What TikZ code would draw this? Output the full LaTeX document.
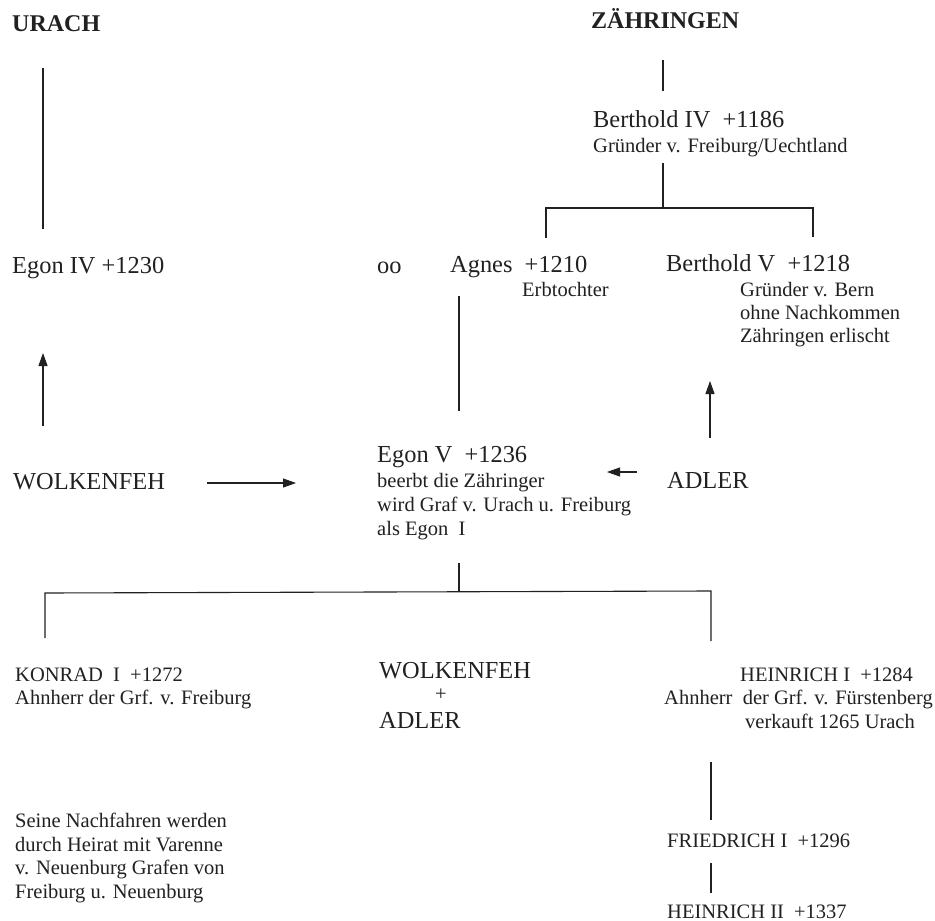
\documentclass[tikz,border=0pt]{standalone}
\usepackage{fontspec}
\setmainfont{Liberation Serif}
\usetikzlibrary{arrows.meta}
\definecolor{ink}{gray}{0.13}
\begin{document}
\begin{tikzpicture}[x=1pt,y=-1pt,
  big/.style={anchor=base west,inner sep=0pt,text=ink,font=\fontsize{24.4}{29}\selectfont},
  small/.style={anchor=base west,inner sep=0pt,text=ink,font=\fontsize{20.5}{24}\selectfont},
  headline/.style={anchor=base west,inner sep=0pt,text=ink,font=\fontsize{24}{29}\selectfont\bfseries},
  link/.style={draw=ink,line width=1.1pt},
  arr/.style={link,-{Triangle[length=13pt,width=9pt]}}]
\path[use as bounding box,fill=white] (0,0) rectangle (935,921);

% headings
\node[headline] (urach) at (12,31) {URACH};
\node[headline] (zaehr) at (591,28) {ZÄHRINGEN};

% Zähringen
\node[big] (b4) at (593,127) {Berthold IV~~+1186};
\node[small] (b4g) at (593,152) {Gründer v. Freiburg/Uechtland};
\node[big] (egon4) at (12,273) {Egon IV +1230};
\node[big] (oo) at (377,273) {oo};
\node[big] (agnes) at (450,272) {Agnes~~+1210};
\node[small] (erb) at (522,296) {Erbtochter};
\node[big] (b5) at (666,271) {Berthold V~~+1218};
\node[small] (b5a) at (740,296) {Gründer v. Bern};
\node[small] (b5b) at (740,319) {ohne Nachkommen};
\node[small] (b5c) at (740,342) {Zähringen erlischt};

% middle row
\node[big] (wolk) at (13,489) {WOLKENFEH};
\node[big] (egon5) at (377,462) {Egon V~~+1236};
\node[small] (e5a) at (377,487) {beerbt die Zähringer};
\node[small] (e5b) at (377,511) {wird Graf v. Urach u. Freiburg};
\node[small] (e5c) at (377,535) {als Egon~~I};
\node[big] (adler) at (667,488) {ADLER};

% children
\node[small] (konrad) at (15,681) {KONRAD~~I~~+1272};
\node[small] (konrada) at (15,704) {Ahnherr der Grf. v. Freiburg};
\node[big] (wolk2) at (379,678) {WOLKENFEH};
\node[small,anchor=base] (plus) at (441,700) {+};
\node[big] (adler2) at (379,728) {ADLER};
\node[small] (h1) at (740,681) {HEINRICH I~~+1284};
\node[small] (h1a) at (664,704) {Ahnherr~~der Grf. v. Fürstenberg};
\node[small] (h1b) at (745,728) {verkauft 1265 Urach};

\node[small] (s1) at (15,827) {Seine Nachfahren werden};
\node[small] (s2) at (15,851) {durch Heirat mit Varenne};
\node[small] (s3) at (15,874) {v. Neuenburg Grafen von};
\node[small] (s4) at (15,898) {Freiburg u. Neuenburg};

\node[small] (fried) at (667,847) {FRIEDRICH I~~+1296};
\node[small] (h2) at (667,918) {HEINRICH II~~+1337};

% connector end points
\coordinate (ul1) at (43,68);   \coordinate (ul2) at (43,229);
\coordinate (zl1) at (663,60);  \coordinate (zl2) at (663,91);
\coordinate (bl1) at (663,163); \coordinate (bj) at (663,208);
\coordinate (bL) at (546,208);  \coordinate (bR) at (813,208);
\coordinate (bLd) at (546,238); \coordinate (bRd) at (813,237);
\coordinate (ag1) at (459,296); \coordinate (ag2) at (459,411);
\coordinate (wa1) at (43,426);  \coordinate (wa2) at (43,353);
\coordinate (aa1) at (710,438); \coordinate (aa2) at (710,381);
\coordinate (wr1) at (207,483); \coordinate (wr2) at (296,483);
\coordinate (al1) at (637,472); \coordinate (al2) at (607,472);
\coordinate (e1) at (459,563);  \coordinate (ej) at (459,592);
\coordinate (cL) at (45,593);   \coordinate (cR) at (711,591);
\coordinate (cLd) at (45,638);  \coordinate (cRd) at (711,641);
\coordinate (hf1) at (711,762); \coordinate (hf2) at (711,820);
\coordinate (fh1) at (711,863); \coordinate (fh2) at (711,893);

\draw[link] (ul1) -- (ul2);
\draw[link] (zl1) -- (zl2);
\draw[link] (bl1) -- (bj);
\draw[link] (bLd) -- (bL) -- (bR) -- (bRd);
\draw[link] (ag1) -- (ag2);
\draw[arr] (wa1) -- (wa2);
\draw[arr] (aa1) -- (aa2);
\draw[arr] (wr1) -- (wr2);
\draw[arr] (al1) -- (al2);
\draw[link] (e1) -- (ej);
\draw[link] (cLd) -- (cL) -- (cR) -- (cRd);
\draw[link] (hf1) -- (hf2);
\draw[link] (fh1) -- (fh2);
\end{tikzpicture}
\end{document}
